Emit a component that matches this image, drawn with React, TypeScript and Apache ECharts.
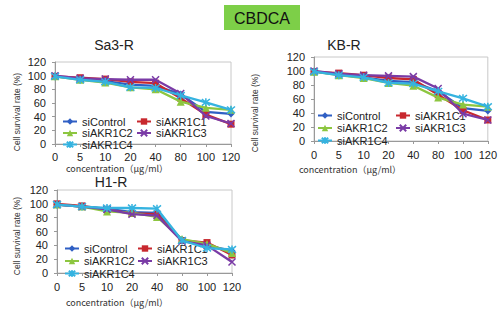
import React, { useEffect, useRef } from "react";
import * as echarts from "echarts";

// ---------- data ----------
const categories = ["0", "5", "10", "20", "40", "80", "100", "120"];
const seriesNames = ["siControl", "siAKR1C1", "siAKR1C2", "siAKR1C3", "siAKR1C4"];
const panelTitles = ["Sa3-R", "KB-R", "H1-R"];
const badgeText = "CBDCA";
const yAxisName = "Cell survival rate (%)";
const xAxisName = "concentration（μg/ml）";

const sa3Control = [99, 95, 92, 87, 85, 73, 47, 44];
const sa3C1 = [99, 97, 95, 91, 89, 67, 43, 29];
const sa3C2 = [99, 94, 90, 83, 80, 62, 53, 50];
const sa3C3 = [100, 96, 95, 94, 94, 74, 41, 30];
const sa3C4 = [99, 94, 91, 83, 82, 71, 61, 50];

const kbControl = [99, 95, 91, 86, 84, 71, 47, 43];
const kbC1 = [99, 97, 94, 90, 88, 66, 44, 30];
const kbC2 = [99, 94, 90, 83, 79, 62, 52, 49];
const kbC3 = [100, 96, 94, 93, 92, 75, 39, 30];
const kbC4 = [99, 94, 91, 83, 82, 71, 61, 49];

const h1Control = [99, 96, 93, 88, 87, 48, 40, 32];
const h1C1 = [100, 97, 92, 86, 85, 47, 44, 26];
const h1C2 = [99, 96, 89, 87, 81, 49, 42, 29];
const h1C3 = [99, 96, 92, 85, 83, 46, 40, 16];
const h1C4 = [99, 96, 94, 94, 93, 47, 36, 34];

// ---------- styles ----------
const FONT = "'Liberation Sans', Arial, sans-serif";
const CJK = "'Noto Sans CJK JP', 'Liberation Sans', sans-serif";
const colors = ["#2F5FC4", "#C8282E", "#8DC640", "#7A3BA6", "#35B3E0"];
const xPath = "path://M0,0L10,10M10,0L0,10";
const starPath = "path://M0,0L10,10M10,0L0,10M5,-1L5,11";
const symbols = ["diamond", "rect", "triangle", xPath, starPath];
const symbolSizes = [7, 7, 8, 7, 8];

const panels = [
  {
    data: [sa3Control, sa3C1, sa3C2, sa3C3, sa3C4],
    grid: { left: 55, top: 62, width: 176, height: 82 },
    legend1: { left: 62, top: 116 },
    legend2: { left: 136, top: 116 },
    legendGap: 0.5,
    title: { x: 114, y: 45 },
    yName: { x: 17, y: 112 },
    xName: { x: 117, y: 168.5 },
    labelMargin: 7,
  },
  {
    data: [kbControl, kbC1, kbC2, kbC3, kbC4],
    grid: { left: 314, top: 57, width: 174, height: 84 },
    legend1: { left: 317, top: 110 },
    legend2: { left: 395, top: 110 },
    legendGap: 1.5,
    title: { x: 344, y: 45 },
    yName: { x: 255, y: 113 },
    xName: { x: 350, y: 169 },
    labelMargin: 8,
  },
  {
    data: [h1Control, h1C1, h1C2, h1C3, h1C4],
    grid: { left: 57, top: 190, width: 175, height: 83 },
    legend1: { left: 64, top: 243 },
    legend2: { left: 137, top: 243 },
    legendGap: 1.5,
    title: { x: 111, y: 182 },
    yName: { x: 17, y: 236 },
    xName: { x: 117, y: 302 },
    labelMargin: 8,
  },
];

function buildOption() {
  const grid: any[] = [];
  const xAxis: any[] = [];
  const yAxis: any[] = [];
  const series: any[] = [];
  const legend: any[] = [];
  const graphic: any[] = [];

  graphic.push({
    type: "rect",
    shape: { x: 224, y: 5, width: 76, height: 25 },
    style: { fill: "#7DCF48" },
  });
  graphic.push({
    type: "text",
    x: 262,
    y: 18,
    style: {
      text: badgeText,
      font: `16px ${FONT}`,
      fill: "#111",
      align: "center",
      verticalAlign: "middle",
    },
  });

  panels.forEach((p, i) => {
    grid.push({
      ...p.grid,
      show: true,
      borderColor: "#c8c8c8",
      borderWidth: 1,
      backgroundColor: "transparent",
    });
    xAxis.push({
      type: "category",
      gridIndex: i,
      data: categories,
      boundaryGap: false,
      axisLine: { lineStyle: { color: "#999" } },
      axisTick: { show: true, length: 3, alignWithLabel: true, lineStyle: { color: "#999" } },
      axisLabel: { fontSize: 11, lineHeight: 11, color: "#222", fontFamily: FONT, margin: p.labelMargin, interval: 0 },
      splitLine: { show: false },
    });
    yAxis.push({
      type: "value",
      gridIndex: i,
      min: 0,
      max: 120,
      interval: 20,
      axisLine: { show: true, lineStyle: { color: "#999" } },
      axisTick: { show: true, length: 3, lineStyle: { color: "#999" } },
      axisLabel: { fontSize: 11, color: "#222", fontFamily: FONT, margin: 9 },
      splitLine: { show: false },
    });
    seriesNames.forEach((name, k) => {
      const isStroke = k >= 3;
      series.push({
        type: "line",
        name,
        xAxisIndex: i,
        yAxisIndex: i,
        data: p.data[k],
        symbol: symbols[k],
        symbolSize: symbolSizes[k],
        showAllSymbol: true,
        lineStyle: { color: colors[k], width: 2.3 },
        itemStyle: {
          color: colors[k],
          borderColor: colors[k],
          borderWidth: isStroke ? 1.5 : 0,
        },
        z: 2 + k,
      });
    });
    const legendCommon = {
      orient: "vertical",
      padding: 0,
      itemWidth: 14,
      itemHeight: 8,
      itemGap: p.legendGap,
      selectedMode: false,
      textStyle: { fontSize: 11, lineHeight: 10, color: "#222", fontFamily: FONT },
    };
    legend.push({ ...legendCommon, ...p.legend1, data: [seriesNames[0], seriesNames[2], seriesNames[4]] });
    legend.push({ ...legendCommon, ...p.legend2, data: [seriesNames[1], seriesNames[3]] });

    graphic.push({
      type: "text",
      x: p.title.x,
      y: p.title.y,
      style: {
        text: panelTitles[i],
        font: `14px ${FONT}`,
        lineHeight: 12,
        fill: "#222",
        align: "center",
        verticalAlign: "middle",
      },
    });
    graphic.push({
      type: "text",
      x: p.yName.x,
      y: p.yName.y,
      rotation: Math.PI / 2,
      style: {
        text: yAxisName,
        font: `8.5px ${FONT}`,
        fill: "#333",
        align: "center",
        verticalAlign: "middle",
      },
    });
    graphic.push({
      type: "text",
      x: p.xName.x,
      y: p.xName.y,
      style: {
        text: xAxisName,
        font: `9px ${CJK}`,
        lineHeight: 10,
        fill: "#333",
        align: "center",
        verticalAlign: "middle",
      },
    });
  });

  return {
    animation: false,
    backgroundColor: "#ffffff",
    grid,
    xAxis,
    yAxis,
    series,
    legend,
    graphic,
  };
}

export default function App() {
  const ref = useRef<HTMLDivElement>(null);
  useEffect(() => {
    if (!ref.current) return;
    const chart = echarts.init(ref.current, undefined, { renderer: "svg" });
    chart.setOption(buildOption() as any);
    return () => chart.dispose();
  }, []);
  return (
    <div
      ref={ref}
      style={{ position: "absolute", left: 0, top: 0, width: 500, height: 309 }}
    />
  );
}
